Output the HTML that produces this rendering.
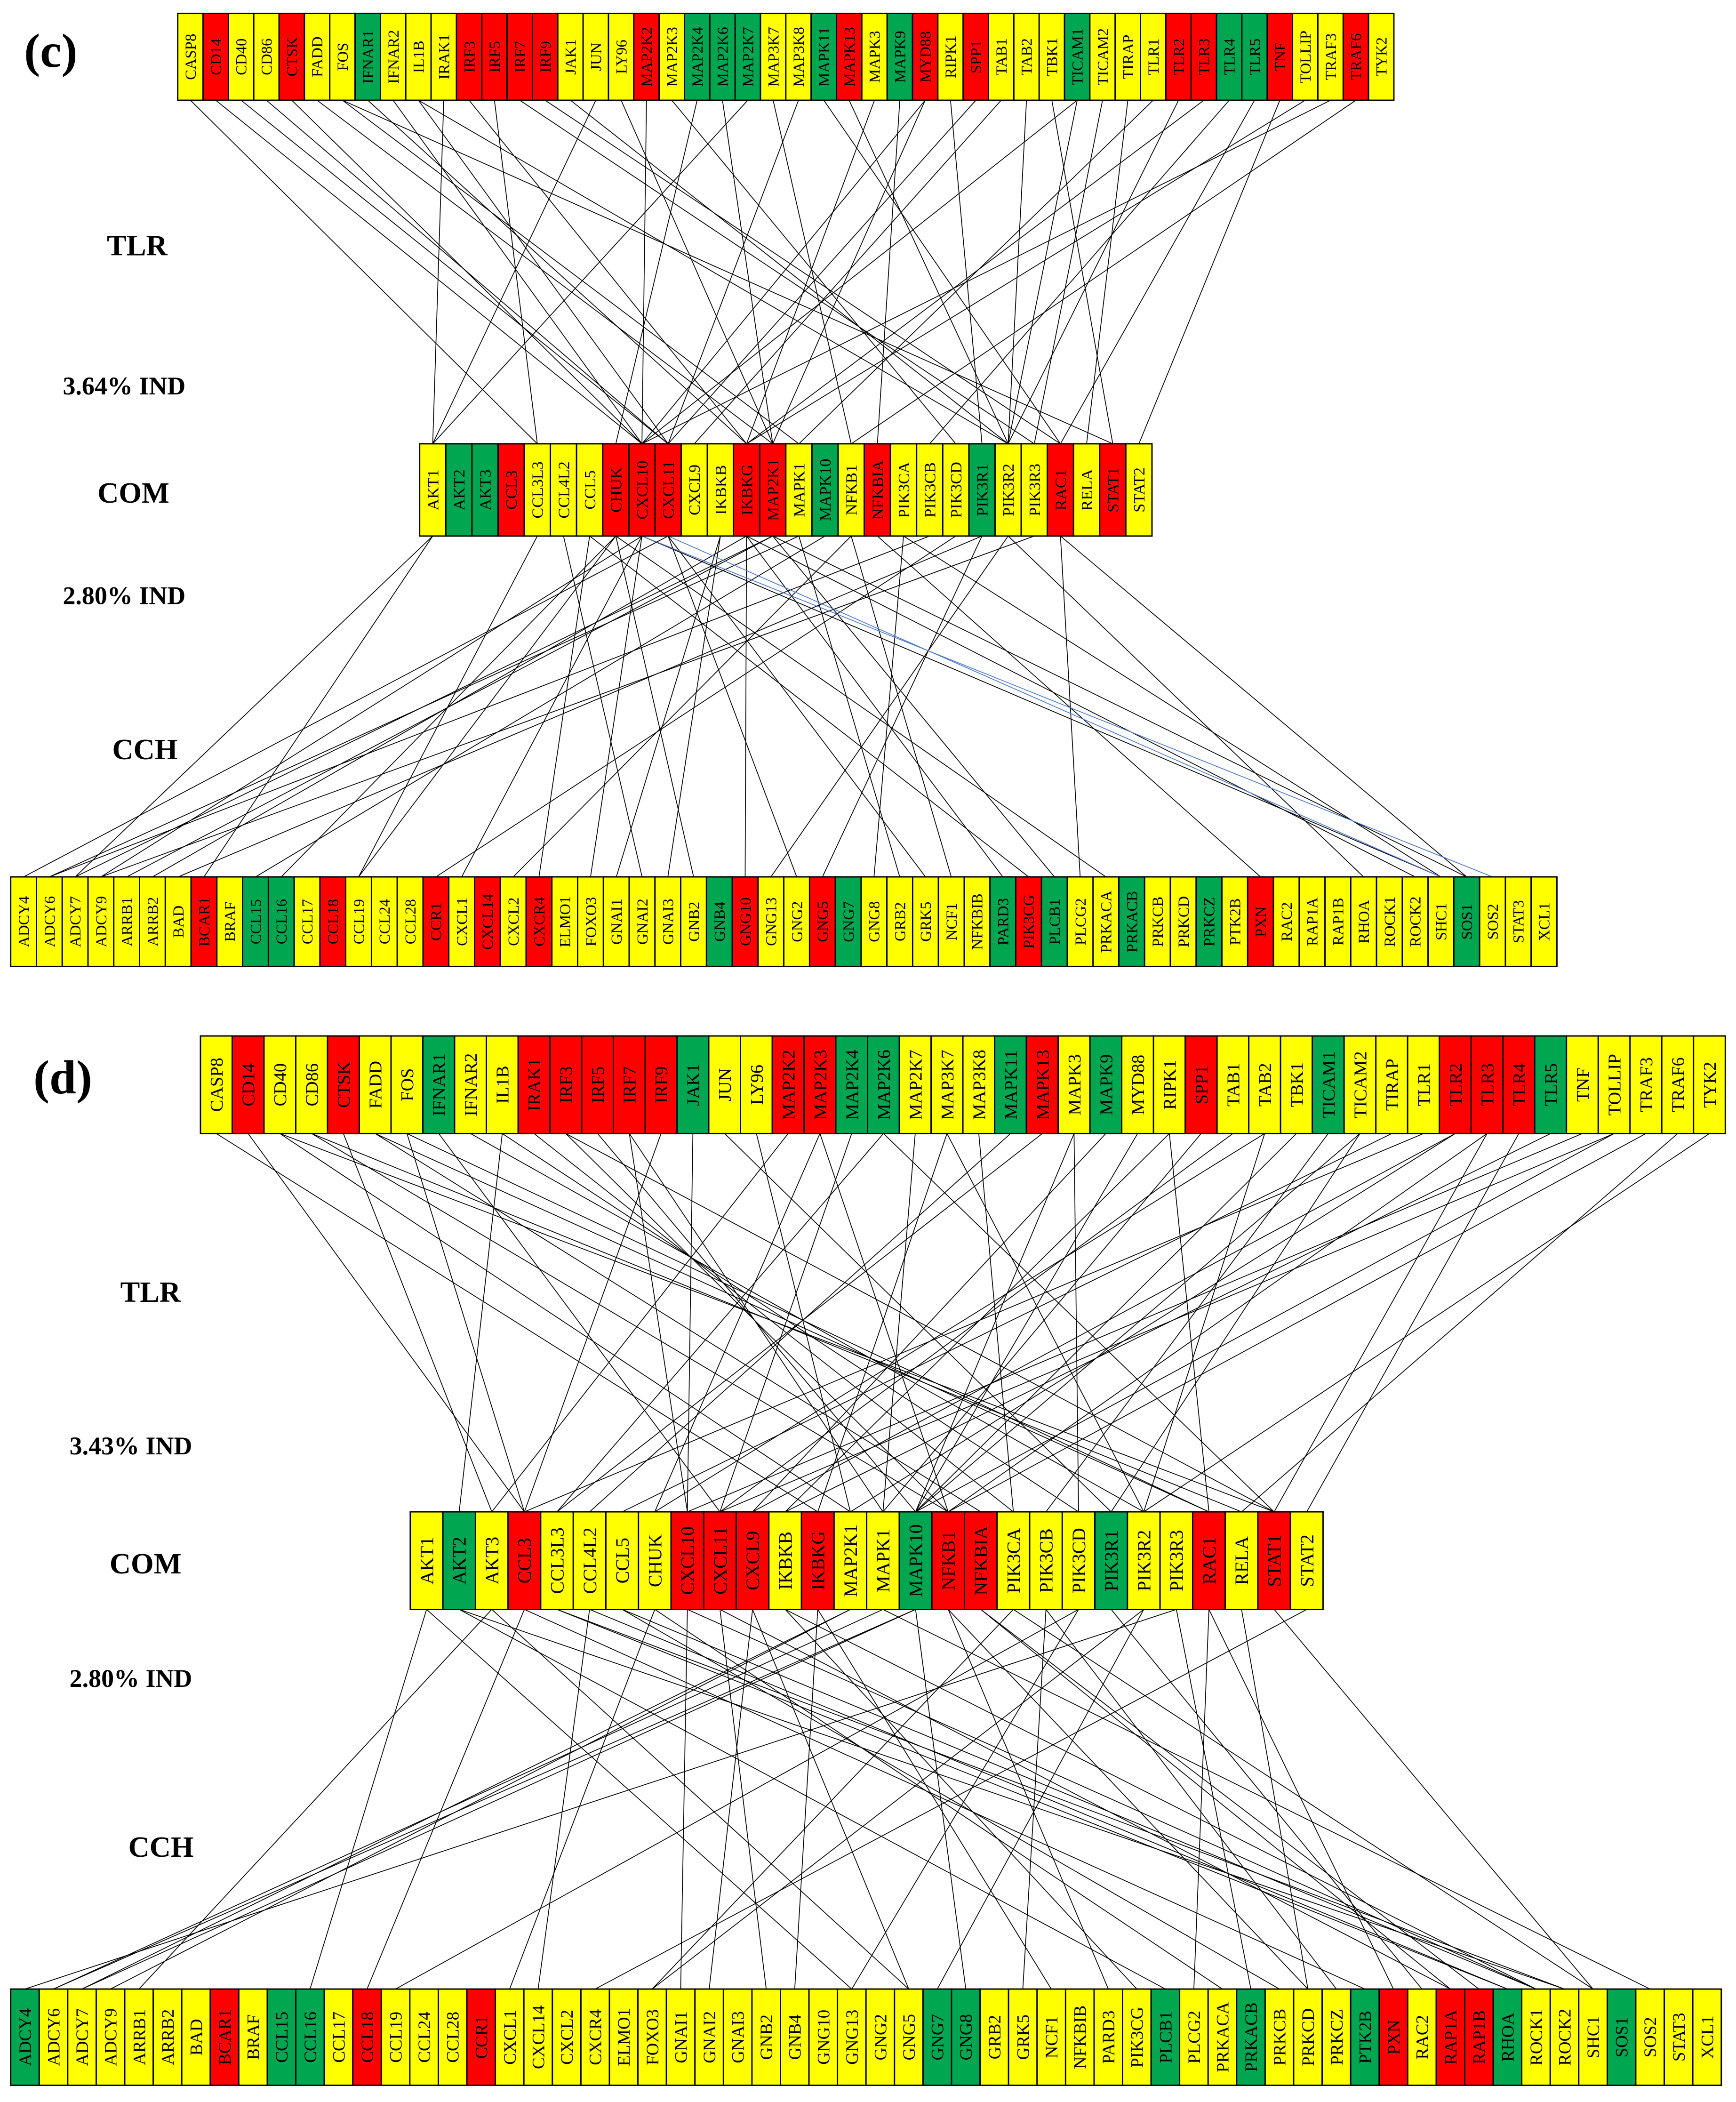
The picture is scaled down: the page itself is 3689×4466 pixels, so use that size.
<!DOCTYPE html>
<html><head><meta charset="utf-8"><style>
html,body{margin:0;padding:0;background:#fff}
svg{display:block}
text{font-family:"Liberation Serif",serif}
</style></head><body>
<svg id="fig" width="3689" height="4466" viewBox="0 0 1299 1572.5" preserveAspectRatio="none" xmlns="http://www.w3.org/2000/svg">
<g id="edges"></g><g id="boxes"></g>
<text x="18" y="50" font-size="36" font-weight="bold">(c)</text>
<text x="80" y="191" font-size="22" font-weight="bold">TLR</text>
<text x="47" y="295" font-size="19" font-weight="bold">3.64% IND</text>
<text x="73" y="376" font-size="22" font-weight="bold">COM</text>
<text x="47" y="452" font-size="19" font-weight="bold">2.80% IND</text>
<text x="84" y="568" font-size="22" font-weight="bold">CCH</text>
<text x="25" y="818" font-size="36" font-weight="bold">(d)</text>
<text x="90" y="974" font-size="22" font-weight="bold">TLR</text>
<text x="52" y="1088" font-size="19" font-weight="bold">3.43% IND</text>
<text x="82" y="1177" font-size="22" font-weight="bold">COM</text>
<text x="52" y="1262" font-size="19" font-weight="bold">2.80% IND</text>
<text x="96" y="1389" font-size="22" font-weight="bold">CCH</text>
</svg>
<script>
const tlrNames=["CASP8","CD14","CD40","CD86","CTSK","FADD","FOS","IFNAR1","IFNAR2","IL1B","IRAK1","IRF3","IRF5","IRF7","IRF9","JAK1","JUN","LY96","MAP2K2","MAP2K3","MAP2K4","MAP2K6","MAP2K7","MAP3K7","MAP3K8","MAPK11","MAPK13","MAPK3","MAPK9","MYD88","RIPK1","SPP1","TAB1","TAB2","TBK1","TICAM1","TICAM2","TIRAP","TLR1","TLR2","TLR3","TLR4","TLR5","TNF","TOLLIP","TRAF3","TRAF6","TYK2"];
const comNames=["AKT1","AKT2","AKT3","CCL3","CCL3L3","CCL4L2","CCL5","CHUK","CXCL10","CXCL11","CXCL9","IKBKB","IKBKG","MAP2K1","MAPK1","MAPK10","NFKB1","NFKBIA","PIK3CA","PIK3CB","PIK3CD","PIK3R1","PIK3R2","PIK3R3","RAC1","RELA","STAT1","STAT2"];
const cchNames=["ADCY4","ADCY6","ADCY7","ADCY9","ARRB1","ARRB2","BAD","BCAR1","BRAF","CCL15","CCL16","CCL17","CCL18","CCL19","CCL24","CCL28","CCR1","CXCL1","CXCL14","CXCL2","CXCR4","ELMO1","FOXO3","GNAI1","GNAI2","GNAI3","GNB2","GNB4","GNG10","GNG13","GNG2","GNG5","GNG7","GNG8","GRB2","GRK5","NCF1","NFKBIB","PARD3","PIK3CG","PLCB1","PLCG2","PRKACA","PRKACB","PRKCB","PRKCD","PRKCZ","PTK2B","PXN","RAC2","RAP1A","RAP1B","RHOA","ROCK1","ROCK2","SHC1","SOS1","SOS2","STAT3","XCL1"];
const cTlrColors="YRYYRYYGYYYRRRRYYYRYGGGYYGRYGRYRYYYGYYYRRGGRYYRY";
const cComColors="YGGRYYYRRRYYRRYGYRYYYGYYRYRY";
const cCchColors="YYYYYYYRYGGYRYYYRYRYRYYYYYYGRYYRGYYYYYGRGYYGYYGYRYYYYYYYGYYY";
const dTlrColors="YRYYRYYGYYRRRRRGYYRRGGYYYGRYGYYRYYYGYYYRRRGYYYYY";
const dComColors="YGYRYYYYRRRYRYYGRRYYYGYYRYRY";
const dCchColors="GYYYYYYRYGGYRYYYRYYYYYYYYYYYYYYYGGYYYYYYGYYGYYYGRYRRGYYYGYYY";
const cTlrCom=[[1,8],[2,9],[3,9],[4,8],[5,13],[6,14],[7,12],[8,8],[9,9],[10,0],[11,12],[12,4],[14,24],[15,22],[16,0],[17,13],[18,8],[19,20],[20,7],[21,13],[22,0],[23,16],[24,9],[25,24],[26,22],[27,12],[28,17],[29,8],[30,21],[31,9],[32,10],[33,22],[34,26],[35,8],[36,23],[37,25],[38,14],[39,22],[40,12],[41,19],[42,24],[43,27],[44,12],[45,8],[46,16],[13,23],[0,4],[6,26],[9,22],[29,13],[35,22]];
const cComCch=[[0,2],[0,7],[7,13],[8,22],[8,3],[9,35],[9,0],[11,25],[12,28],[12,5],[13,4],[13,40],[14,34],[15,9],[16,36],[17,48],[18,55],[19,1],[20,16],[21,6],[22,52],[23,3],[24,41],[24,56],[6,20],[7,10],[8,17],[9,30],[12,38],[13,56],[14,1],[18,33],[21,31],[22,29],[4,13],[5,24],[7,42],[11,23],[16,19],[8,55],[12,54],[13,2],[6,39],[7,26]];
const cComCchBlue=[[8,57],[9,55]];
const dTlrCom=[[0,12],[1,3],[2,13],[3,16],[4,2],[5,17],[6,24],[7,9],[8,22],[9,1],[10,18],[11,16],[12,15],[13,14],[14,3],[15,8],[16,21],[17,13],[18,2],[19,16],[20,9],[21,26],[22,14],[23,12],[24,18],[25,5],[26,4],[27,20],[28,10],[29,15],[30,24],[31,14],[32,9],[33,7],[34,15],[35,19],[36,15],[37,6],[38,3],[39,13],[40,26],[41,27],[42,11],[43,8],[44,15],[45,16],[46,25],[47,22],[2,26],[3,25],[5,24],[6,3],[9,20],[11,26],[13,8],[19,7],[21,4],[23,22],[27,15],[30,11],[33,22],[36,21],[39,10],[40,16],[44,9]];
const dComCch=[[0,10],[0,29],[1,40],[1,54],[2,31],[2,4],[3,12],[3,47],[4,52],[5,18],[6,44],[7,42],[8,23],[8,53],[9,26],[9,50],[10,31],[10,24],[11,53],[12,27],[12,36],[13,3],[14,57],[15,1],[15,2],[15,33],[16,45],[16,38],[17,50],[17,51],[18,22],[18,55],[19,46],[19,35],[20,13],[21,49],[22,32],[23,43],[24,48],[24,41],[25,45],[26,55],[27,20],[4,54],[5,52],[6,53],[7,17],[11,39],[13,2],[14,1],[20,29],[22,22],[23,0]];
const NS="http://www.w3.org/2000/svg";
const fill={Y:"#ffff00",R:"#ff0000",G:"#00a650"};
const rows={
 cT:{names:tlrNames,colors:cTlrColors,x0:133,x1:1043,y0:10,y1:75,fs:11.5},
 cC:{names:comNames,colors:cComColors,x0:314,x1:862,y0:332,y1:401,fs:12},
 cH:{names:cchNames,colors:cCchColors,x0:8,x1:1165,y0:656,y1:723,fs:11.5},
 dT:{names:tlrNames,colors:dTlrColors,x0:150,x1:1291,y0:775,y1:848,fs:13.5},
 dC:{names:comNames,colors:dComColors,x0:307,x1:990,y0:1131,y1:1204,fs:14},
 dH:{names:cchNames,colors:dCchColors,x0:8,x1:1288,y0:1488,y1:1560,fs:13}
};
function cx(r,i){const w=(r.x1-r.x0)/r.names.length;return r.x0+w*(i+0.5);}
const bg=document.getElementById('boxes'),eg=document.getElementById('edges');
for(const k in rows){const r=rows[k];const w=(r.x1-r.x0)/r.names.length;
 r.names.forEach((n,i)=>{const g=document.createElementNS(NS,'g');
  
  
  const rc=document.createElementNS(NS,'rect');
  rc.setAttribute('x',r.x0+w*i);rc.setAttribute('y',r.y0);rc.setAttribute('width',w);rc.setAttribute('height',r.y1-r.y0);
  rc.setAttribute('fill',fill[r.colors[i]]||fill.Y);rc.setAttribute('stroke','#000');rc.setAttribute('stroke-width','1');
  g.appendChild(rc);
  const t=document.createElementNS(NS,'text');const xx=r.x0+w*(i+0.5),yy=(r.y0+r.y1)/2;
  t.setAttribute('x',xx);t.setAttribute('y',yy);t.setAttribute('font-size',r.fs);
  t.setAttribute('text-anchor','middle');t.setAttribute('dy','0.35em');
  t.setAttribute('transform','rotate(-90 '+xx+' '+yy+')');t.textContent=n;
  g.appendChild(t);bg.appendChild(g);});}
function draw(list,a,b,color,name){list.forEach(([i,j])=>{const l=document.createElementNS(NS,'line');
 l.setAttribute('x1',cx(a,i));l.setAttribute('y1',a.y1);l.setAttribute('x2',cx(b,j));l.setAttribute('y2',b.y0);
 l.setAttribute('stroke',color);l.setAttribute('stroke-width','0.6');
 
 
 eg.appendChild(l);});}
draw(cTlrCom,rows.cT,rows.cC,'#000','edge-c-tlr-com');
draw(cComCch,rows.cC,rows.cH,'#000','edge-c-com-cch');
draw(cComCchBlue,rows.cC,rows.cH,'#4a78c8','edge-c-com-cch-blue');
draw(dTlrCom,rows.dT,rows.dC,'#000','edge-d-tlr-com');
draw(dComCch,rows.dC,rows.dH,'#000','edge-d-com-cch');
</script>
</body></html>
